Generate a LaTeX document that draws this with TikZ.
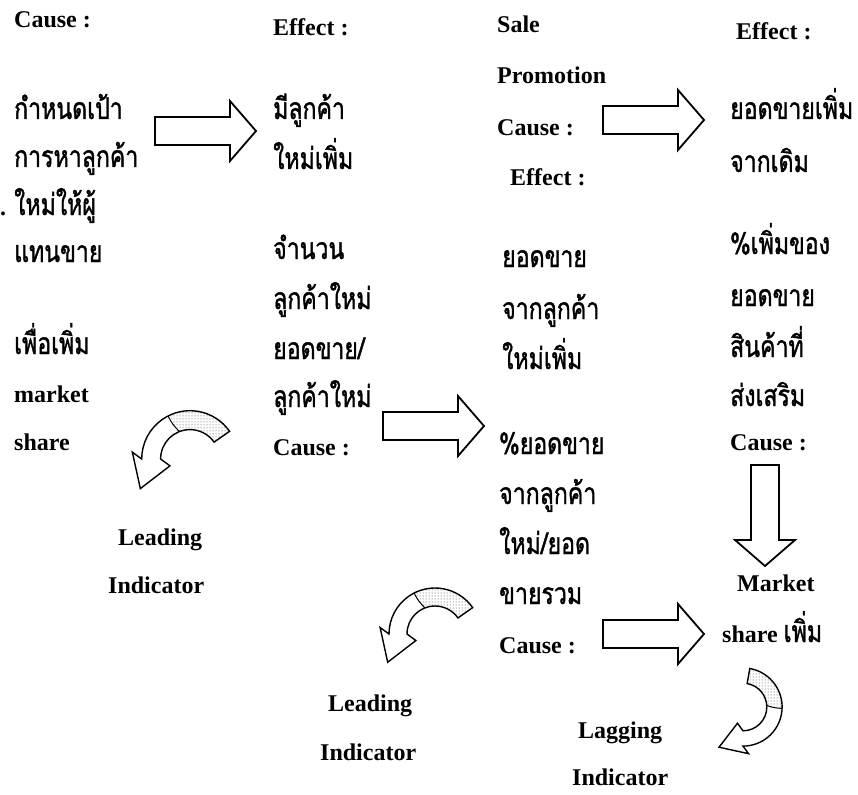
\documentclass[tikz,border=0pt]{standalone}
\usepackage{fontspec}
\setmainfont{Liberation Serif}
\newfontfamily\thai[Script=Thai, FakeStretch=0.77, FakeBold=1.2]{Loma}
\usetikzlibrary{patterns}

\tikzset{
  lbl/.style={anchor=base west, inner sep=0pt, font=\bfseries\fontsize{24}{24}\selectfont},
  th/.style={anchor=base west, inner sep=0pt, font=\thai\fontsize{30}{30}\selectfont},
  outline/.style={draw=black, line width=1.8pt, line join=miter},
  % hollow block arrow pointing along local +x
  pics/barrow/.style={code={
    \draw[outline, fill=white] (0pt,14pt) -- (75pt,14pt) -- (75pt,30pt) -- (101pt,0pt)
      -- (75pt,-30pt) -- (75pt,-14pt) -- (0pt,-14pt) -- cycle;
  }},
  % curved ribbon arrow; #1 = angle where the ribbon starts
  pics/curved/.style={code={
    \path[fill=white] (#1:46pt) arc[start angle=#1, end angle=180, radius=46pt]
      -- (-54.9pt,6.5pt) -- (-47.3pt,-28.2pt) -- (-19.1pt,-6.5pt)
      -- (180:28pt) arc[start angle=180, end angle=#1, radius=28pt] -- cycle;
    \path[pattern=dots, pattern color=black!75] (#1:46pt)
      arc[start angle=#1, end angle=#1+80, radius=46pt]
      -- (#1+80:28pt) arc[start angle=#1+80, end angle=#1, radius=28pt] -- cycle;
    \draw[line width=1.4pt, line join=miter] (#1:46pt) arc[start angle=#1, end angle=180, radius=46pt]
      -- (-54.9pt,6.5pt) -- (-47.3pt,-28.2pt) -- (-19.1pt,-6.5pt)
      -- (180:28pt) arc[start angle=180, end angle=#1, radius=28pt] -- cycle;
    \draw[line width=1pt] (#1+82:46pt) to[bend right=10] (#1+76:28pt);
  }}
}

\begin{document}
\begin{tikzpicture}[x=1pt, y=-1pt]
\useasboundingbox (0,0) rectangle (858,794);

% first column
\node[lbl] (c1h) at (14,28) {Cause :};
\node[th] (c1a) at (14,119) {กำหนดเป้า};
\node[th] (c1b) at (14,167) {การหาลูกค้า};
\node[lbl] (c1dot) at (0,215) {.};
\node[th] (c1c) at (14,215) {ใหม่ให้ผู้};
\node[th] (c1d) at (14,262) {แทนขาย};
\node[th] (c1e) at (14,354) {เพื่อเพิ่ม};
\node[lbl] (c1f) at (14,402) {market};
\node[lbl] (c1g) at (14,450) {share};

% second column
\node[lbl] (c2h) at (273,36) {Effect :};
\node[th] (c2a) at (273,119) {มีลูกค้า};
\node[th] (c2b) at (273,169) {ใหม่เพิ่ม};
\node[th] (c2c) at (273,259) {จำนวน};
\node[th] (c2d) at (273,309) {ลูกค้าใหม่};
\node[th] (c2e) at (273,359) {ยอดขาย/};
\node[th] (c2f) at (273,407) {ลูกค้าใหม่};
\node[lbl] (c2g) at (273,455) {Cause :};

% third column
\node[lbl] (c3s) at (497,33) {Sale};
\node[lbl] (c3p) at (497,84) {Promotion};
\node[lbl] (c3c) at (497,136) {Cause :};
\node[lbl] (c3e) at (510,186) {Effect :};
\node[th] (c3a) at (502,267) {ยอดขาย};
\node[th] (c3b) at (502,319) {จากลูกค้า};
\node[th] (c3d) at (502,369) {ใหม่เพิ่ม};
\node[th] (c3f) at (499,454) {\%ยอดขาย};
\node[th] (c3g) at (499,504) {จากลูกค้า};
\node[th] (c3i) at (499,554) {ใหม่/ยอด};
\node[th] (c3j) at (499,604) {ขายรวม};
\node[lbl] (c3k) at (499,653) {Cause :};

% fourth column
\node[lbl] (c4h) at (736,40) {Effect :};
\node[th] (c4a) at (730,119) {ยอดขายเพิ่ม};
\node[th] (c4b) at (730,172) {จากเดิม};
\node[th] (c4c) at (730,254) {\%เพิ่มของ};
\node[th] (c4d) at (730,306) {ยอดขาย};
\node[th] (c4e) at (730,357) {สินค้าที่};
\node[th] (c4f) at (730,406) {ส่งเสริม};
\node[lbl] (c4g) at (730,450) {Cause :};
\node[lbl] (c4m) at (737,591) {Market};
\node[lbl] (c4n) at (722,642) {share {\thai\mdseries\fontsize{30}{30}\selectfont เพิ่ม}};

% indicator captions
\node[lbl] (ld1) at (118,545) {Leading};
\node[lbl] (ld1b) at (108,593) {Indicator};
\node[lbl] (ld2) at (328,711) {Leading};
\node[lbl] (ld2b) at (320,760) {Indicator};
\node[lbl] (lg) at (578,738) {Lagging};
\node[lbl] (lgb) at (572,785) {Indicator};

% block arrows
\pic at (155,131) {barrow};
\pic at (603,120) {barrow};
\pic at (383,426) {barrow};
\pic[rotate=-90] at (765,465) {barrow};
\pic at (603,634) {barrow};

% curved ribbon arrows
\pic[scale=1.05] at (190,459) {curved=35};
\pic at (435,634) {curved=35};
\pic[rotate=-90, xscale=-1, scale=0.85] at (743,707) {curved=10};
\end{tikzpicture}
\end{document}
